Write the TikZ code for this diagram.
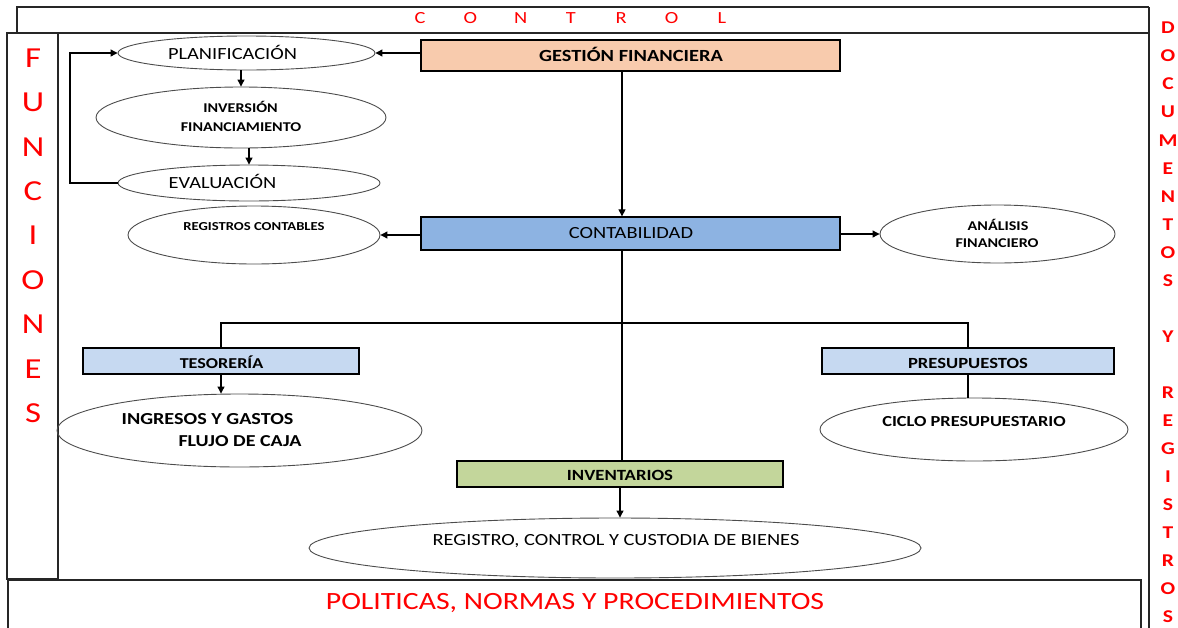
\documentclass[tikz,border=0pt]{standalone}
\usepackage{graphicx}
\usepackage{fontspec}
\setmainfont{Carlito}
\usetikzlibrary{shapes.geometric,arrows.meta}
\definecolor{peach}{HTML}{F8CBAD}
\definecolor{contblue}{HTML}{8DB3E2}
\definecolor{lightblue}{HTML}{C6D9F1}
\definecolor{olivegreen}{HTML}{C3D69B}
\definecolor{redtxt}{HTML}{FF0000}
\newcommand{\wx}[1]{\scalebox{1.2}[1]{#1}}
\newcommand{\bfsz}[1]{\bfseries\fontsize{#1}{#1}\selectfont}
\newcommand{\rgsz}[1]{\fontsize{#1}{#1}\selectfont}
\begin{document}
\begin{tikzpicture}[x=1pt,y=-1pt,
  frame/.style={draw=black!85,line width=1.3pt},
  boxnode/.style={draw=black,line width=1.3pt,inner sep=0pt,rectangle},
  ellnode/.style={ellipse,draw=black!70,line width=0.9pt,inner sep=0pt},
  conn/.style={line width=1.1pt,draw=black},
  arr/.style={conn,-{Triangle[length=7pt,width=7pt]}},
  lbl/.style={anchor=base,inner sep=0pt,text=black},
  redletter/.style={anchor=center,inner sep=0pt,text=redtxt}]
\useasboundingbox (0,0) rectangle (1178,627);
\clip (0,0) rectangle (1178,627);

% frames
\draw[frame] (17,33) -- (17,7) -- (1149,7);
\draw[frame] (1149,7) -- (1149,640);
\draw[frame] (58,33) -- (1149,33);
\draw[frame] (7,33) rectangle (58,579);
\draw[frame] (8,580) rectangle (1141,650);

% red headings
\foreach \l/\k in {C/0,O/1,N/2,T/3,R/4,O/5,L/6}
  \node[redletter,font=\rgsz{17}] (ctl\k) at ({420+50.3*\k},18) {\wx{\l}};
\foreach \l [count=\i] in {F,U,N,C,I,O,N,E,S}
  \node[redletter,font=\rgsz{29}] (fun\i) at (33,{58+44.4*(\i-1)}) {\wx{\l}};
\foreach \l/\k in {D/0,O/1,C/2,U/3,M/4,E/5,N/6,T/7,O/8,S/9,Y/11,R/13,E/14,G/15,I/16,S/17,T/18,R/19,O/20,S/21}
  \node[redletter,font=\bfsz{18}] (doc\k) at (1168,{28+28.05*\k}) {\wx{\l}};
\node[lbl,text=redtxt,font=\rgsz{24.8}] (pol) at (575,609) {\wx{POLITICAS, NORMAS Y PROCEDIMIENTOS}};

% boxes
\node[boxnode,fill=peach,minimum width=419pt,minimum height=31pt] (gest) at (630.5,55.5) {};
\node[boxnode,fill=contblue,minimum width=419pt,minimum height=33pt] (cont) at (630.5,233.5) {};
\node[boxnode,fill=lightblue,minimum width=276pt,minimum height=26pt] (teso) at (221,361) {};
\node[boxnode,fill=lightblue,minimum width=292pt,minimum height=26pt] (pres) at (968,361) {};
\node[boxnode,fill=olivegreen,minimum width=326pt,minimum height=26pt] (invt) at (620,474) {};

% ellipses
\node[ellnode,minimum width=257pt,minimum height=34pt] (plan) at (246.5,53) {};
\node[ellnode,minimum width=290pt,minimum height=61pt] (inv) at (241,117.5) {};
\node[ellnode,minimum width=262pt,minimum height=36pt] (eva) at (249,183) {};
\node[ellnode,minimum width=252pt,minimum height=58pt] (regc) at (254,235) {};
\node[ellnode,minimum width=235pt,minimum height=58pt] (anal) at (997.5,234) {};
\node[ellnode,minimum width=365pt,minimum height=73pt] (ingr) at (239.5,430.5) {};
\node[ellnode,minimum width=308pt,minimum height=63pt] (ciclo) at (974,429.5) {};
\node[ellnode,minimum width=612pt,minimum height=60pt] (rcc) at (615,548) {};

% labels
\node[lbl,font=\bfsz{17}] (gestt) at (631,61.5) {\wx{GESTIÓN FINANCIERA}};
\node[lbl,font=\rgsz{17}] (contt) at (631,238) {\wx{CONTABILIDAD}};
\node[lbl,font=\rgsz{17}] (plant) at (232.5,59.5) {\wx{PLANIFICACIÓN}};
\node[lbl,font=\bfsz{13.4}] (invt1) at (240.5,112.3) {\wx{INVERSIÓN}};
\node[lbl,font=\bfsz{13.4}] (invt2) at (241,131.8) {\wx{FINANCIAMIENTO}};
\node[lbl,font=\rgsz{17}] (evat) at (222.5,188.5) {\wx{EVALUACIÓN}};
\node[lbl,font=\bfsz{12.2}] (regct) at (254,230.4) {\wx{REGISTROS CONTABLES}};
\node[lbl,font=\bfsz{13.4}] (analt1) at (998,230.3) {\wx{ANÁLISIS}};
\node[lbl,font=\bfsz{13.4}] (analt2) at (997,247.8) {\wx{FINANCIERO}};
\node[lbl,font=\bfsz{15.1}] (tesot) at (221.5,368) {\wx{TESORERÍA}};
\node[lbl,font=\bfsz{16.8}] (ingrt1) at (207.5,424.4) {\wx{INGRESOS Y GASTOS}};
\node[lbl,font=\bfsz{16.7}] (ingrt2) at (240,446.9) {\wx{FLUJO DE CAJA}};
\node[lbl,font=\bfsz{15.5}] (prest) at (968,368) {\wx{PRESUPUESTOS}};
\node[lbl,font=\bfsz{15.3}] (ciclot) at (974,426.9) {\wx{CICLO PRESUPUESTARIO}};
\node[lbl,font=\bfsz{15.6}] (invtt) at (620,480.5) {\wx{INVENTARIOS}};
\node[lbl,font=\rgsz{17}] (rcct) at (616,545.5) {\wx{REGISTRO, CONTROL Y CUSTODIA DE BIENES}};

% helper coordinates
\coordinate (spx) at (622,300);
\coordinate (loop) at (70,53);
\coordinate (br) at (622,323);

% connectors
\draw[arr] (plan.east -| gest.west) -- (plan.east);
\draw[arr] (inv.north |- plan.south) -- (inv.north);
\draw[arr] (eva.north |- inv.south) -- (eva.north);
\draw[arr] (eva.west) -| (loop) -- (plan.west);
\draw[arr] (gest.south -| spx) -- (cont.north -| spx);
\draw[arr] (regc.east -| cont.west) -- (regc.east);
\draw[arr] (anal.west -| cont.east) -- (anal.west);
\draw[conn] (cont.south -| spx) -- (invt.north -| spx);
\draw[conn] (teso.north) |- (br) -| (pres.north);
\draw[arr] (teso.south) -- (teso.south |- ingr.north);
\draw[conn] (pres.south) -- (pres.south |- ciclo.north);
\draw[arr] (invt.south) -- (invt.south |- rcc.north);
\end{tikzpicture}
\end{document}
